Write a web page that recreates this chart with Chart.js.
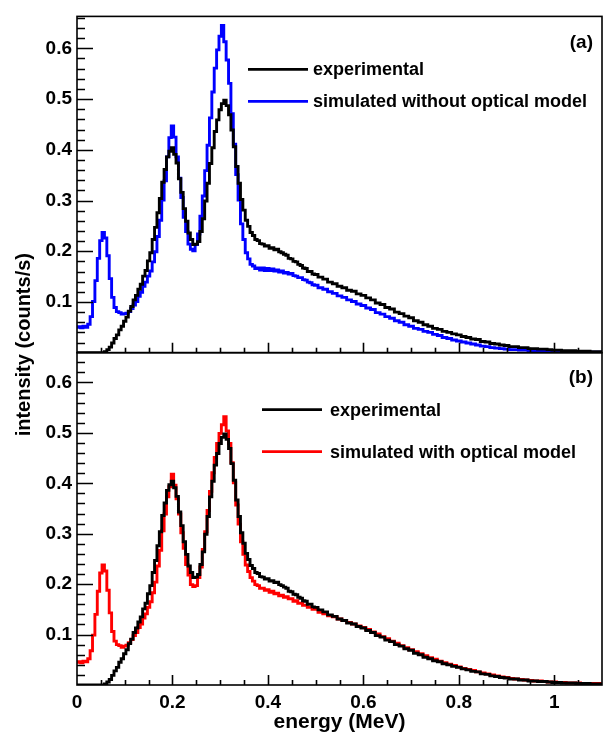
<!DOCTYPE html>
<html>
<head>
<meta charset="utf-8">
<title>intensity vs energy</title>
<script src="https://cdn.jsdelivr.net/npm/chart.js"></script>
<style>
  html, body { margin: 0; padding: 0; background: #fff; }
  #wrap { position: relative; width: 610px; height: 741px; }
</style>
</head>
<body>
<div id="wrap"><canvas id="grafico" width="610" height="741"></canvas></div>
<script>
// ================= DATA =================
const energy = [
  0.000, 0.005, 0.010, 0.015, 0.020, 0.025, 0.030, 0.035, 0.040, 0.045,
  0.050, 0.055, 0.060, 0.065, 0.070, 0.075, 0.080, 0.085, 0.090, 0.095,
  0.100, 0.105, 0.110, 0.115, 0.120, 0.125, 0.130, 0.135, 0.140, 0.145,
  0.150, 0.155, 0.160, 0.165, 0.170, 0.175, 0.180, 0.185, 0.190, 0.195,
  0.200, 0.205, 0.210, 0.215, 0.220, 0.225, 0.230, 0.235, 0.240, 0.245,
  0.250, 0.255, 0.260, 0.265, 0.270, 0.275, 0.280, 0.285, 0.290, 0.295,
  0.300, 0.305, 0.310, 0.315, 0.320, 0.325, 0.330, 0.335, 0.340, 0.345,
  0.350, 0.355, 0.360, 0.365, 0.370, 0.375, 0.380, 0.385, 0.390, 0.395,
  0.400, 0.405, 0.410, 0.415, 0.420, 0.425, 0.430, 0.435, 0.440, 0.445,
  0.450, 0.455, 0.460, 0.465, 0.470, 0.475, 0.480, 0.485, 0.490, 0.495,
  0.500,
  0.51, 0.52, 0.53, 0.54, 0.55, 0.56, 0.57, 0.58, 0.59, 0.60,
  0.61, 0.62, 0.63, 0.64, 0.65, 0.66, 0.67, 0.68, 0.69, 0.70,
  0.71, 0.72, 0.73, 0.74, 0.75, 0.76, 0.77, 0.78, 0.79, 0.80,
  0.81, 0.82, 0.83, 0.84, 0.85, 0.86, 0.87, 0.88, 0.89, 0.90,
  0.91, 0.92, 0.93, 0.94, 0.95, 0.96, 0.97, 0.98, 0.99, 1.00,
  1.01, 1.02, 1.03, 1.04, 1.05, 1.06, 1.07, 1.08, 1.09, 1.10
];

// experimental spectrum (black, both panels)
const experimental = [
  0, 0, 0, 0, 0, 0, 0, 0, 0, 0,
  0, 0, 0.002, 0.006, 0.011, 0.019, 0.028, 0.035, 0.045, 0.052,
  0.062, 0.070, 0.082, 0.091, 0.104, 0.113, 0.125, 0.135, 0.151, 0.162,
  0.181, 0.197, 0.223, 0.247, 0.276, 0.304, 0.336, 0.361, 0.386, 0.397,
  0.404, 0.391, 0.374, 0.343, 0.316, 0.284, 0.259, 0.236, 0.223, 0.213,
  0.214, 0.219, 0.239, 0.264, 0.299, 0.334, 0.373, 0.404, 0.436, 0.459,
  0.479, 0.491, 0.498, 0.487, 0.469, 0.439, 0.406, 0.367, 0.334, 0.302,
  0.281, 0.261, 0.249, 0.237, 0.231, 0.223, 0.221, 0.215, 0.214, 0.210,
  0.211, 0.206, 0.207, 0.203, 0.204, 0.199, 0.197, 0.194, 0.192, 0.186,
  0.185, 0.180, 0.179, 0.174, 0.172, 0.167, 0.166, 0.160, 0.160, 0.155,
  0.154,
  0.149, 0.145, 0.139, 0.136, 0.131, 0.128, 0.123, 0.121, 0.116, 0.113,
  0.108, 0.104, 0.098, 0.095, 0.089, 0.086, 0.080, 0.077, 0.072, 0.069,
  0.063, 0.060, 0.055, 0.052, 0.048, 0.046, 0.042, 0.040, 0.037, 0.035,
  0.032, 0.030, 0.027, 0.026, 0.022, 0.021, 0.018, 0.017, 0.015, 0.014,
  0.012, 0.012, 0.010, 0.010, 0.008, 0.008, 0.007, 0.007, 0.006, 0.005,
  0.005, 0.004, 0.004, 0.004, 0.003, 0.003, 0.003, 0.002, 0.002, 0.002
];

// simulated without optical model (blue, panel a)
const simWithout = [
  0.050, 0.051, 0.049, 0.052, 0.050, 0.056, 0.071, 0.101, 0.142, 0.186,
  0.221, 0.237, 0.226, 0.191, 0.146, 0.109, 0.089, 0.081, 0.079, 0.076,
  0.077, 0.078, 0.081, 0.087, 0.094, 0.101, 0.111, 0.119, 0.131, 0.139,
  0.151, 0.161, 0.179, 0.199, 0.229, 0.261, 0.301, 0.339, 0.386, 0.424,
  0.447, 0.425, 0.386, 0.344, 0.306, 0.267, 0.239, 0.214, 0.204, 0.201,
  0.213, 0.234, 0.269, 0.309, 0.359, 0.409, 0.463, 0.514, 0.561, 0.597,
  0.624, 0.645, 0.613, 0.577, 0.531, 0.471, 0.411, 0.351, 0.301, 0.254,
  0.223, 0.197, 0.185, 0.174, 0.171, 0.166, 0.167, 0.163, 0.167, 0.162,
  0.166, 0.162, 0.165, 0.161, 0.163, 0.159, 0.161, 0.157, 0.158, 0.155,
  0.156, 0.152, 0.151, 0.148, 0.148, 0.144, 0.143, 0.139, 0.138, 0.134,
  0.133,
  0.128, 0.125, 0.120, 0.117, 0.112, 0.109, 0.104, 0.101, 0.096, 0.093,
  0.088, 0.085, 0.079, 0.076, 0.071, 0.068, 0.063, 0.060, 0.055, 0.052,
  0.048, 0.046, 0.042, 0.040, 0.036, 0.034, 0.030, 0.028, 0.025, 0.023,
  0.021, 0.019, 0.017, 0.015, 0.013, 0.012, 0.010, 0.009, 0.008, 0.007,
  0.006, 0.006, 0.005, 0.005, 0.004, 0.004, 0.004, 0.003, 0.003, 0.003,
  0.003, 0.002, 0.002, 0.002, 0.002, 0.002, 0.001, 0.001, 0.001, 0.001
];

// simulated with optical model (red, panel b)
const simWith = [
  0.045, 0.046, 0.044, 0.047, 0.046, 0.052, 0.068, 0.099, 0.140, 0.186,
  0.222, 0.238, 0.226, 0.188, 0.143, 0.106, 0.087, 0.080, 0.078, 0.075,
  0.077, 0.079, 0.084, 0.090, 0.098, 0.104, 0.114, 0.121, 0.133, 0.141,
  0.154, 0.165, 0.183, 0.204, 0.236, 0.267, 0.306, 0.339, 0.373, 0.393,
  0.418, 0.396, 0.369, 0.339, 0.302, 0.271, 0.239, 0.218, 0.199, 0.195,
  0.197, 0.213, 0.234, 0.269, 0.304, 0.346, 0.384, 0.421, 0.451, 0.479,
  0.499, 0.516, 0.532, 0.504, 0.479, 0.441, 0.401, 0.357, 0.319, 0.284,
  0.259, 0.238, 0.225, 0.213, 0.206, 0.199, 0.197, 0.192, 0.192, 0.188,
  0.189, 0.184, 0.186, 0.181, 0.182, 0.177, 0.178, 0.174, 0.175, 0.171,
  0.171, 0.166, 0.167, 0.162, 0.162, 0.158, 0.158, 0.154, 0.154, 0.150,
  0.150,
  0.144, 0.141, 0.137, 0.135, 0.131, 0.128, 0.124, 0.121, 0.117, 0.114,
  0.110, 0.105, 0.101, 0.096, 0.092, 0.087, 0.083, 0.078, 0.074, 0.070,
  0.066, 0.062, 0.058, 0.054, 0.051, 0.047, 0.044, 0.041, 0.039, 0.036,
  0.033, 0.031, 0.029, 0.026, 0.024, 0.022, 0.020, 0.018, 0.016, 0.015,
  0.013, 0.012, 0.011, 0.010, 0.009, 0.008, 0.008, 0.007, 0.006, 0.006,
  0.005, 0.005, 0.004, 0.004, 0.004, 0.003, 0.003, 0.003, 0.003, 0.002
];

const xTickValues = [0, 0.2, 0.4, 0.6, 0.8, 1];
const yTickValues = [0.1, 0.2, 0.3, 0.4, 0.5, 0.6];
const panelLabels = ["(a)", "(b)"];
const xTitle = "energy (MeV)";
const yTitle = "intensity (counts/s)";

// ================= STYLE =================
const FONT = "'Liberation Sans', Arial, Helvetica, sans-serif";

function series(values) {
  return energy.map((e, i) => ({ x: e, y: values[i] }));
}

function line(label, values, axis, color) {
  return {
    label: label,
    data: series(values),
    yAxisID: axis,
    borderColor: color,
    backgroundColor: color,
    borderWidth: 2.9,
    pointRadius: 0,
    stepped: "middle",
    fill: false
  };
}

// ticks pointing inwards, frames, legends and the shared y title
const decor = {
  id: "decor",
  afterDatasetsDraw(chart) {
    const ctx = chart.ctx;
    const ca = chart.chartArea;
    const xs = chart.scales.x;
    ctx.save();
    ctx.strokeStyle = "#000";
    ctx.lineWidth = 1.6;

    ["yA", "yB"].forEach(id => {
      const ys = chart.scales[id];
      ctx.strokeRect(ca.left, ys.top, ca.right - ca.left, ys.bottom - ys.top);
      ctx.beginPath();
      for (let i = 1; i * 0.02 < ys.max; i++) {
        const py = Math.round(ys.getPixelForValue(i * 0.02)) + 0.5;
        const len = i % 5 === 0 ? 16 : 8;
        ctx.moveTo(ca.left, py);
        ctx.lineTo(ca.left + len, py);
      }
      for (let i = 1; i * 0.05 < xs.max - 0.001; i++) {
        const px = Math.round(xs.getPixelForValue(i * 0.05)) + 0.5;
        const len = i % 4 === 0 ? 10 : 5;
        ctx.moveTo(px, ys.bottom);
        ctx.lineTo(px, ys.bottom - len);
      }
      ctx.stroke();
    });

    // legends
    const legends = [
      { scale: "yA", sets: [0, 1], x0: 248, x1: 308, tx: 313, dy: [53, 85], lab: 26 },
      { scale: "yB", sets: [2, 3], x0: 262, x1: 322, tx: 330, dy: [57, 99], lab: 25 }
    ];
    legends.forEach((lg, k) => {
      const top = chart.scales[lg.scale].top;
      ctx.textBaseline = "middle";
      ctx.fillStyle = "#000";
      ctx.font = "bold 19px " + FONT;
      ctx.textAlign = "right";
      ctx.fillText(panelLabels[k], 593, top + lg.lab);
      ctx.font = "bold 18px " + FONT;
      ctx.textAlign = "left";
      lg.sets.forEach((di, j) => {
        const ds = chart.data.datasets[di];
        const y = top + lg.dy[j];
        ctx.strokeStyle = ds.borderColor;
        ctx.lineWidth = 2.6;
        ctx.beginPath();
        ctx.moveTo(lg.x0, y);
        ctx.lineTo(lg.x1, y);
        ctx.stroke();
        ctx.fillStyle = "#000";
        ctx.fillText(ds.label, lg.tx, y + 1);
      });
    });

    // y title spanning both panels
    ctx.translate(24, (chart.scales.yA.top + chart.scales.yB.bottom) / 2 - 6);
    ctx.rotate(-Math.PI / 2);
    ctx.textAlign = "center";
    ctx.textBaseline = "middle";
    ctx.fillStyle = "#000";
    ctx.font = "bold 20px " + FONT;
    ctx.fillText(yTitle, 0, 0);
    ctx.restore();
  }
};

function yScale(max, weight, order) {
  return {
    type: "linear",
    position: "left",
    stack: "panels",
    stackWeight: weight,
    weight: order,
    min: 0,
    max: max,
    grid: { display: false, drawTicks: false },
    border: { display: false },
    afterBuildTicks: s => { s.ticks = yTickValues.map(v => ({ value: v })); },
    afterFit: s => { s.width = 77; },
    ticks: {
      padding: 5,
      color: "#000",
      font: { family: FONT, size: 19, weight: "bold" },
      callback: v => String(v)
    }
  };
}

new Chart(document.getElementById("grafico"), {
  type: "line",
  data: {
    datasets: [
      line("experimental", experimental, "yA", "#000000"),
      line("simulated without optical model", simWithout, "yA", "#0000ff"),
      line("experimental", experimental, "yB", "#000000"),
      line("simulated with optical model", simWith, "yB", "#ff0000")
    ]
  },
  options: {
    responsive: false,
    animation: false,
    layout: { padding: { left: 0, right: 8, top: 7, bottom: 0 } },
    plugins: { legend: { display: false }, tooltip: { enabled: false } },
    scales: {
      x: {
        type: "linear",
        min: 0,
        max: 1.1,
        grid: { display: false, drawTicks: false },
        border: { display: false },
        afterBuildTicks: s => { s.ticks = xTickValues.map(v => ({ value: v })); },
        afterFit: s => { s.height = 56; },
        ticks: {
          padding: 6,
          maxRotation: 0,
          autoSkip: false,
          color: "#000",
          font: { family: FONT, size: 19, weight: "bold" },
          callback: v => String(v)
        },
        title: {
          display: true,
          text: xTitle,
          color: "#000",
          padding: 6,
          font: { family: FONT, size: 21, weight: "bold" }
        }
      },
      yA: yScale(0.663, 341, 2),
      yB: yScale(0.659, 337, 1)
    }
  },
  plugins: [decor]
});
</script>
</body>
</html>
